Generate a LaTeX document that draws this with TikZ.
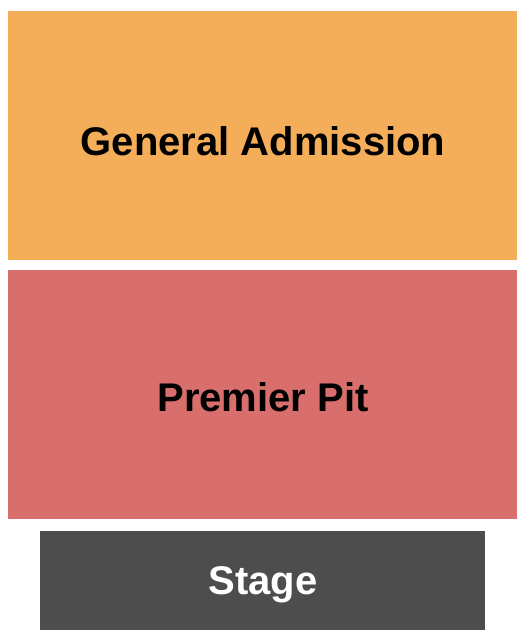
\documentclass[tikz,border=0pt]{standalone}
\usepackage{fontspec}
\setmainfont{Liberation Sans}
\definecolor{gacol}{HTML}{F4AE5A}
\definecolor{pitcol}{HTML}{D86F6D}
\definecolor{stagecol}{HTML}{4D4D4D}
\begin{document}
\begin{tikzpicture}[x=1pt,y=-1pt,
  lbl/.style={font=\fontsize{40}{44}\selectfont\bfseries,anchor=base,inner sep=0pt}]
\useasboundingbox (0,0) rectangle (525,640);
\fill[white] (0,0) rectangle (525,640);
\fill[gacol] (8,11) rectangle (517,259.5);
\fill[pitcol] (8,270) rectangle (517,519);
\fill[stagecol] (40,531) rectangle (485,630);
\node[lbl,text=black] (ga) at (263,155) {General Admission};
\node[lbl,text=black] (pit) at (263,411.5) {Premier Pit};
\node[lbl,text=white] (stage) at (263,594) {Stage};
\end{tikzpicture}
\end{document}
